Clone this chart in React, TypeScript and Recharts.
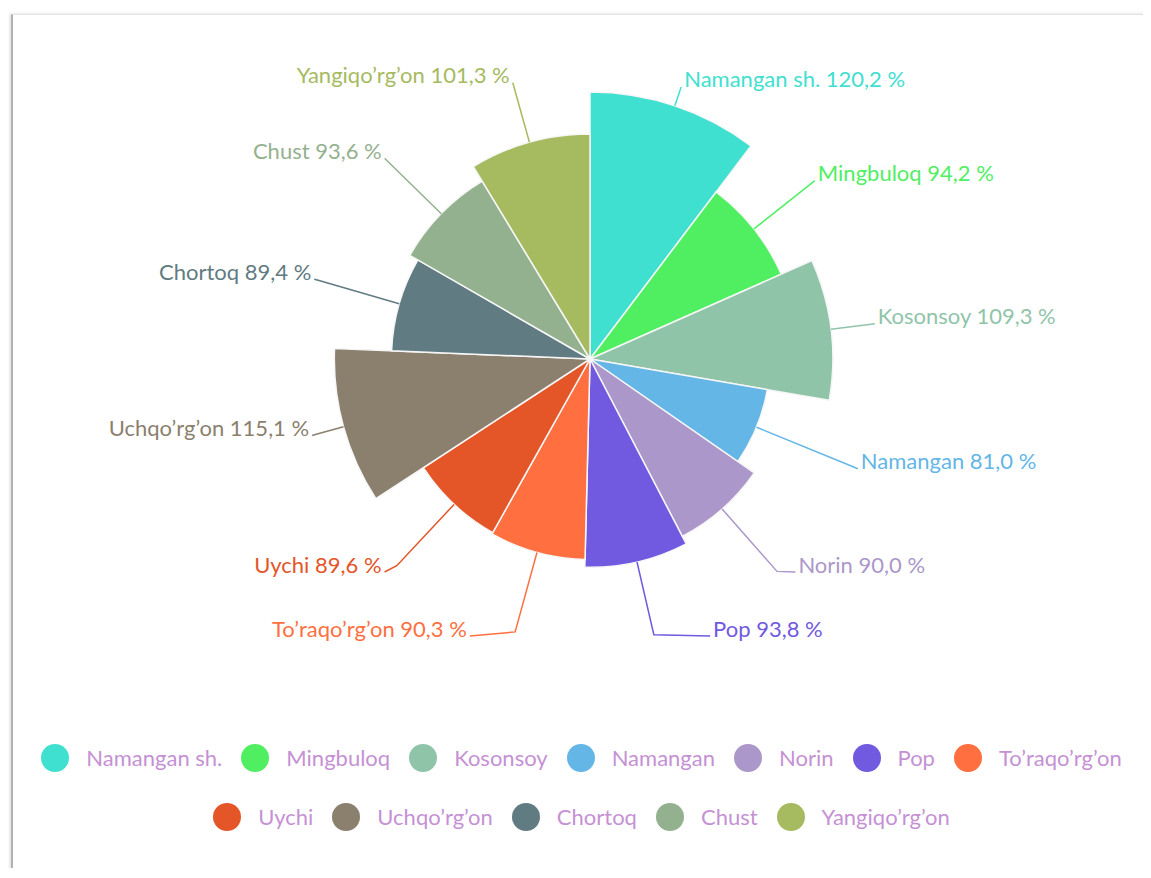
import React from 'react';
import { PieChart, Pie, Cell, Legend } from 'recharts';

const names = [
  'Namangan sh.',
  'Mingbuloq',
  'Kosonsoy',
  'Namangan',
  'Norin',
  'Pop',
  'To\u2019raqo\u2019rg\u2019on',
  'Uychi',
  'Uchqo\u2019rg\u2019on',
  'Chortoq',
  'Chust',
  'Yangiqo\u2019rg\u2019on',
];

const values = [120.2, 94.2, 109.3, 81.0, 90.0, 93.8, 90.3, 89.6, 115.1, 89.4, 93.6, 101.3];

const colors = [
  '#40e0d0',
  '#50ef62',
  '#8fc4a9',
  '#63b6e6',
  '#ab97c9',
  '#7159e0',
  '#ff6f40',
  '#e45528',
  '#8b7f6e',
  '#617b82',
  '#94b18f',
  '#a6ba5f',
];

const data = names.map((name, i) => ({ name, value: values[i], fill: colors[i] }));

const RAD = Math.PI / 180;
const CX = 582;
const CY = 351;
const RMAX = 267;
const maxValue = Math.max(...values);
const total = values.reduce((a, b) => a + b, 0);
const rScale = (v: number) => (v / maxValue) * RMAX;

// label placement: ellipse around the pie (wider below), kept above the legend
const LABEL_A = 287;
const LABEL_B_TOP = 287;
const LABEL_B_BOTTOM = 305;
const BEND_R = RMAX + 16;
const MAX_DY = 277;
const MIN_GAP = 64;

const midAngles: number[] = (() => {
  let a = 90;
  return values.map((v) => {
    const sweep = (v / total) * 360;
    const m = a - sweep / 2;
    a -= sweep;
    return m;
  });
})();
const sides = midAngles.map((m) => (Math.cos(m * RAD) >= 0 ? 1 : -1));
const semiB = midAngles.map((m) => (Math.sin(m * RAD) > 0 ? LABEL_B_TOP : LABEL_B_BOTTOM));
const labelDy = midAngles.map((m, i) => {
  const c = Math.cos(m * RAD);
  const s = Math.sin(m * RAD);
  const b = semiB[i];
  const r = (LABEL_A * b) / Math.sqrt((b * c) ** 2 + (LABEL_A * s) ** 2);
  return -r * s;
});
[1, -1].forEach((side) => {
  const idx = labelDy
    .map((_, i) => i)
    .filter((i) => sides[i] === side && labelDy[i] > 0)
    .sort((a, b) => labelDy[b] - labelDy[a]);
  let limit = MAX_DY;
  idx.forEach((i) => {
    if (labelDy[i] > limit) labelDy[i] = limit;
    limit = labelDy[i] - MIN_GAP;
  });
});
const labelDx = labelDy.map(
  (dy, i) => sides[i] * LABEL_A * Math.sqrt(Math.max(1 - (dy * dy) / (semiB[i] * semiB[i]), 0))
);

const fmt = (v: number) => v.toFixed(1).replace('.', ',') + ' %';

const renderLabel = (props: any) => {
  const { cx, cy, midAngle, index, value, name } = props;
  const r = rScale(value);
  const p1x = cx + r * Math.cos(midAngle * RAD);
  const p1y = cy - r * Math.sin(midAngle * RAD);
  const p2x = cx + BEND_R * Math.cos(midAngle * RAD);
  const p2y = cy - BEND_R * Math.sin(midAngle * RAD);
  const p3x = cx + labelDx[index];
  const p3y = cy + labelDy[index];
  const side = sides[index];
  const color = colors[index];
  return (
    <g key={`lbl-${index}`}>
      <polyline
        points={`${p1x},${p1y} ${p2x},${p2y} ${p3x},${p3y}`}
        fill="none"
        stroke={color}
        strokeWidth={1.5}
      />
      <text
        x={p3x + side * 3}
        y={p3y - 8}
        textAnchor={side > 0 ? 'start' : 'end'}
        dominantBaseline="central"
        fill={color}
        fontFamily="Lato, 'Open Sans', sans-serif"
        fontSize={22}
      >
        {`${name} ${fmt(value)}`}
      </text>
    </g>
  );
};

const renderLegend = () => {
  const items = names.map((n, i) => ({ name: n, color: colors[i] }));
  return (
    <div
      style={{
        display: 'flex',
        flexWrap: 'wrap',
        justifyContent: 'center',
        columnGap: 19,
        width: 1110,
        margin: '0 auto',
        paddingLeft: 4,
        boxSizing: 'border-box',
      }}
    >
      {items.map((it) => (
        <div key={it.name} style={{ display: 'flex', alignItems: 'center', height: 59 }}>
          <span
            style={{
              display: 'inline-block',
              width: 28,
              height: 28,
              borderRadius: '50%',
              background: it.color,
              marginRight: 17,
            }}
          />
          <span
            style={{
              fontFamily: "Lato, 'Open Sans', sans-serif",
              fontSize: 22,
              color: '#c591d4',
            }}
          >
            {it.name}
          </span>
        </div>
      ))}
    </div>
  );
};

export default function App() {
  return (
    <div style={{ position: 'relative', width: 1143, height: 860, background: '#fff' }}>
      <div
        style={{
          position: 'absolute',
          left: 3,
          top: 6,
          width: 1140,
          height: 860,
          boxSizing: 'border-box',
          borderTop: '1px solid #e3e3e3',
          borderLeft: '2px solid #b2b2b2',
          borderBottom: '1px solid #d6d6d6',
          boxShadow: '-1px 0 3px rgba(0,0,0,0.15)',
        }}
      />
      <div style={{ position: 'absolute', left: 0, top: 0 }}>
        <PieChart width={1143} height={860} margin={{ top: 0, right: 0, bottom: 0, left: 0 }}>
          <Pie
            data={data}
            dataKey="value"
            nameKey="name"
            cx={CX}
            cy={CY}
            innerRadius={0}
            outerRadius={(d: any) => rScale(d.value)}
            startAngle={90}
            endAngle={-270}
            stroke="#f6f6f6"
            strokeWidth={1.5}
            label={renderLabel}
            labelLine={false}
            isAnimationActive={false}
          >
            {data.map((d, i) => (
              <Cell key={d.name} fill={colors[i]} />
            ))}
          </Pie>
          <Legend
            verticalAlign="bottom"
            content={renderLegend}
            wrapperStyle={{ top: 720, bottom: 'auto', left: 0, width: 1143 }}
          />
        </PieChart>
      </div>
    </div>
  );
}
